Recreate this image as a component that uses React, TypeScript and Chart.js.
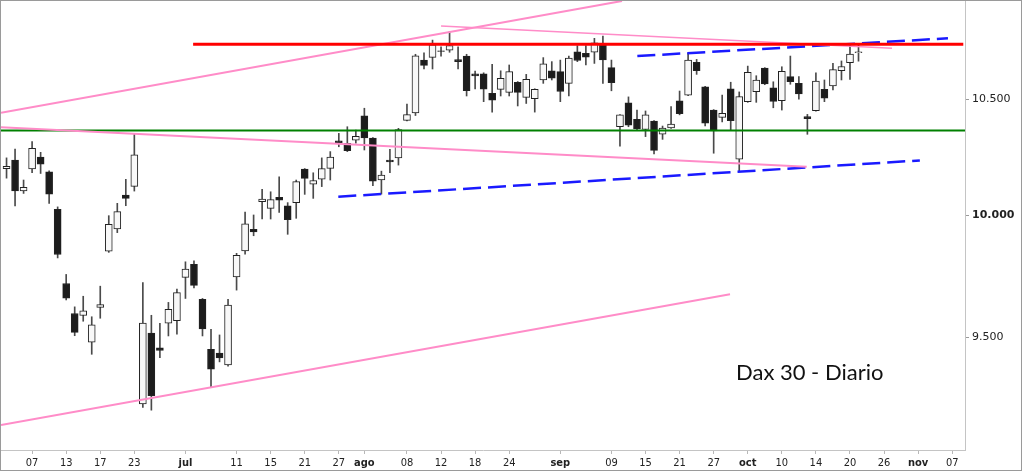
import React, { useEffect, useRef } from 'react';
import { Chart, registerables } from 'chart.js';

Chart.register(...registerables);

// Trading days shown on the axis (Oct 3 has no session in this feed)
const axisDays = [
  '06-02','06-03','06-06','06-07','06-08','06-09','06-10','06-13','06-14','06-15','06-16','06-17','06-20','06-21','06-22','06-23','06-24','06-27','06-28','06-29','06-30',
  '07-01','07-04','07-05','07-06','07-07','07-08','07-11','07-12','07-13','07-14','07-15','07-18','07-19','07-20','07-21','07-22','07-25','07-26','07-27','07-28','07-29',
  '08-01','08-02','08-03','08-04','08-05','08-08','08-09','08-10','08-11','08-12','08-15','08-16','08-17','08-18','08-19','08-22','08-23','08-24','08-25','08-26','08-29','08-30','08-31',
  '09-01','09-02','09-05','09-06','09-07','09-08','09-09','09-12','09-13','09-14','09-15','09-16','09-19','09-20','09-21','09-22','09-23','09-26','09-27','09-28','09-29','09-30',
  '10-04','10-05','10-06','10-07','10-10','10-11','10-12','10-13','10-14','10-17','10-18','10-19','10-20','10-21','10-24','10-25','10-26','10-27','10-28','10-31',
  '11-01','11-02','11-03','11-04','11-07','11-08'
];

const candleOpen = [
  10198,10235,10103,10196,10247,10184,10025,9717,9595,9587,9480,9620,9850,9942,10085,10122,9237,9516,9458,9556,9566,
  9742,9796,9653,9452,9437,9390,9744,9851,9941,10057,10029,10075,10039,10053,10196,10131,10153,10199,10318,10307,10320,
  10427,10330,10149,10235,10244,10407,10439,10674,10686,10716,10719,10676,10692,10612,10612,10526,10543,10530,10575,10508,10502,10585,10626,
  10622,10570,10711,10704,10709,10742,10640,10379,10484,10411,10367,10404,10347,10374,10493,10518,10664,10555,10452,10420,10546,10238,
  10489,10533,10638,10550,10493,10600,10570,10423,10449,10543,10559,10626,10662,10707
];
const candleHigh = [
  10244,10282,10149,10314,10268,10188,10035,9754,9622,9665,9582,9706,9998,10050,10152,10346,9721,9588,9556,9640,9694,
  9806,9810,9656,9532,9509,9653,9841,10013,10001,10109,10099,10163,10053,10149,10198,10180,10244,10271,10350,10379,10364,
  10460,10332,10187,10281,10372,10478,10700,10707,10764,10734,10802,10734,10700,10625,10617,10655,10626,10652,10578,10610,10546,10685,10667,
  10674,10692,10739,10739,10772,10782,10674,10432,10510,10452,10448,10406,10382,10467,10536,10704,10677,10557,10454,10518,10575,10532,
  10647,10604,10640,10577,10644,10692,10600,10433,10617,10585,10659,10670,10742,10742
];
const candleLow = [
  10157,10039,10092,10180,10177,10050,9822,9650,9506,9564,9432,9576,9845,9927,10040,10102,9224,9213,9419,9505,9512,
  9656,9699,9505,9304,9402,9385,9690,9837,9914,9984,9984,10012,9920,9987,10088,10071,10121,10149,10292,10271,10307,
  10278,10125,10089,10180,10213,10404,10428,10634,10634,10692,10709,10634,10514,10545,10489,10443,10514,10514,10470,10481,10443,10570,10585,
  10489,10514,10667,10652,10659,10570,10537,10295,10379,10365,10336,10261,10324,10372,10431,10515,10610,10382,10264,10400,10364,10189,
  10486,10486,10564,10462,10452,10566,10500,10346,10447,10489,10541,10585,10588,10669
];
const candleClose = [
  10208,10103,10118,10285,10217,10089,9836,9657,9519,9606,9550,9631,9962,10015,10071,10257,9557,9269,9447,9612,9680,
  9776,9709,9533,9373,9418,9629,9833,9964,9930,10068,10066,10063,9981,10142,10156,10147,10198,10247,10310,10275,10337,
  10330,10144,10170,10227,10367,10432,10693,10650,10743,10713,10739,10667,10537,10603,10544,10495,10592,10622,10530,10588,10544,10657,10593,
  10534,10683,10672,10687,10752,10675,10573,10431,10386,10370,10431,10276,10373,10391,10436,10674,10627,10394,10361,10438,10405,10511,
  10619,10585,10568,10490,10624,10577,10523,10414,10580,10504,10631,10645,10701,10711
];

const xTickDays = ['06-07','06-13','06-17','06-23','07-01','07-11','07-15','07-21','07-27','08-01','08-08','08-12','08-18','08-24','09-01','09-09','09-15','09-21','09-27','10-04','10-10','10-14','10-20','10-26','11-01','11-07'];
const xTickLabels = ['07','13','17','23','jul','11','15','21','27','ago','08','12','18','24','sep','09','15','21','27','oct','10','14','20','26','nov','07'];
const monthLabels = ['jul', 'ago', 'sep', 'oct', 'nov'];

const yTickValues = [9500, 10000, 10500];
const yMin = 9060;
const yMax = 10947;
const xMin = -0.65;
const xMax = 112.5;

// Trend lines: [x1 (day index), value1, x2, value2]
const redResistance = [21.9, 10745, 112.3, 10745];
const greenSupport = [-0.65, 10363, 112.5, 10363];
const pinkUpperRising = [-0.65, 10440, 72.24, 10942];
const pinkTopFalling = [51.0, 10828, 103.93, 10727];
const pinkMidFalling = [-0.65, 10377, 93.92, 10206];
const pinkLowerRising = [-0.65, 9156, 84.92, 9673];
const blueUpper = [74.04, 10692, 110.5, 10772];
const blueLower = [38.94, 10078, 107.2, 10233];

const titleText = 'Dax 30 - Diario';

const FONT = '"DejaVu Sans Condensed", "DejaVu Sans", sans-serif';

function fmtThousands(v: number): string {
  const t = Math.floor(v / 1000);
  const r = Math.round(v % 1000);
  return t + '.' + String(r).padStart(3, '0');
}

function seg(line: number[], color: string, width: number, dash: number[] = []) {
  return {
    type: 'line' as const,
    data: [{ x: line[0], y: line[1] }, { x: line[2], y: line[3] }],
    borderColor: color,
    borderWidth: width,
    borderDash: dash,
    pointRadius: 0,
    fill: false,
    tension: 0,
    order: 0,
  };
}

const framePlugin = {
  id: 'frameAndTitle',
  beforeDraw(chart: any) {
    const ctx = chart.ctx;
    ctx.save();
    ctx.fillStyle = '#ffffff';
    ctx.fillRect(0, 0, chart.width, chart.height);
    ctx.restore();
  },
  afterDraw(chart: any) {
    const ctx = chart.ctx;
    ctx.save();
    ctx.strokeStyle = '#9a9a9a';
    ctx.lineWidth = 1;
    ctx.strokeRect(0.5, 0.5, 1021, 470);
    ctx.font = '22px Lato, "Open Sans", sans-serif';
    ctx.fillStyle = '#111111';
    ctx.textBaseline = 'alphabetic';
    ctx.textAlign = 'left';
    ctx.fillText(titleText, 736, 380);
    ctx.restore();
  },
};

export default function App() {
  const ref = useRef<HTMLCanvasElement>(null);

  useEffect(() => {
    document.body.style.margin = '0';
    const canvas = ref.current!;
    const n = candleOpen.length;
    const wickData = [] as any[];
    const bodyData = [] as any[];
    const bodyFill = [] as string[];
    for (let i = 0; i < n; i++) {
      const o = candleOpen[i];
      const c = candleClose[i];
      wickData.push({ x: i, y: [candleLow[i], candleHigh[i]] });
      bodyData.push({ x: i, y: [Math.min(o, c), Math.max(o, c)] });
      bodyFill.push(c >= o ? '#f8f8f8' : '#1c1c1c');
    }

    const chart = new Chart(canvas, {
      type: 'bar',
      data: {
        datasets: [
          seg(redResistance, '#ff0000', 3),
          seg(pinkUpperRising, '#ff8cc8', 2),
          seg(pinkTopFalling, '#ff8cc8', 1.6),
          seg(pinkMidFalling, '#ff8cc8', 2),
          seg(pinkLowerRising, '#ff8cc8', 2),
          seg(greenSupport, '#008000', 2),
          seg(blueUpper, '#1a1aff', 2.5, [18, 7]),
          seg(blueLower, '#1a1aff', 2.5, [18, 7]),
          {
            type: 'bar',
            data: bodyData,
            backgroundColor: bodyFill,
            borderColor: '#222222',
            borderWidth: 1,
            borderSkipped: false,
            barThickness: 7,
            grouped: false,
            order: 1,
          } as any,
          {
            type: 'bar',
            data: wickData,
            backgroundColor: '#4a4a4a',
            borderWidth: 0,
            barThickness: 1,
            grouped: false,
            order: 2,
          } as any,
        ],
      },
      options: {
        responsive: false,
        devicePixelRatio: 1,
        animation: false,
        layout: { padding: { left: 1, top: 0, right: 0, bottom: 0 } },
        plugins: { legend: { display: false }, tooltip: { enabled: false } },
        scales: {
          x: {
            type: 'linear',
            min: xMin,
            max: xMax,
            offset: false,
            grid: { drawOnChartArea: false, drawTicks: true, tickLength: 4, color: '#b8b8b8', offset: false },
            border: { display: true, color: '#c4c4c4' },
            afterBuildTicks: (scale: any) => {
              scale.ticks = xTickDays.map((d) => ({ value: axisDays.indexOf(d) }));
            },
            afterFit: (scale: any) => {
              scale.height = 23;
              scale.paddingLeft = 0;
              scale.paddingRight = 0;
            },
            ticks: {
              autoSkip: false,
              maxRotation: 0,
              minRotation: 0,
              padding: 3,
              color: '#222222',
              callback: (_v: any, idx: number) => xTickLabels[idx],
              font: (ctx: any) => ({
                family: FONT,
                size: 11,
                weight: monthLabels.includes(xTickLabels[ctx.index]) ? 'bold' : 'normal',
              }),
            },
          } as any,
          y: {
            type: 'logarithmic',
            position: 'right',
            min: yMin,
            max: yMax,
            grid: { drawOnChartArea: false, drawTicks: true, tickLength: 4, color: '#9a9a9a' },
            border: { display: true, color: '#c4c4c4' },
            afterBuildTicks: (scale: any) => {
              scale.ticks = yTickValues.map((v) => ({ value: v }));
            },
            afterFit: (scale: any) => {
              scale.width = 59;
              scale.paddingTop = 0;
              scale.paddingBottom = 0;
            },
            ticks: {
              padding: 3,
              color: '#222222',
              callback: (v: any) => fmtThousands(Number(v)),
              font: (ctx: any) => ({
                family: '"DejaVu Sans", sans-serif',
                size: 11,
                weight: ctx.tick && ctx.tick.value === 10000 ? 'bold' : 'normal',
              }),
            },
          } as any,
        },
      },
      plugins: [framePlugin],
    } as any);

    return () => chart.destroy();
  }, []);

  return (
    <div style={{ width: 1024, height: 473 }}>
      <canvas ref={ref} width={1024} height={473} style={{ display: 'block' }} />
    </div>
  );
}
